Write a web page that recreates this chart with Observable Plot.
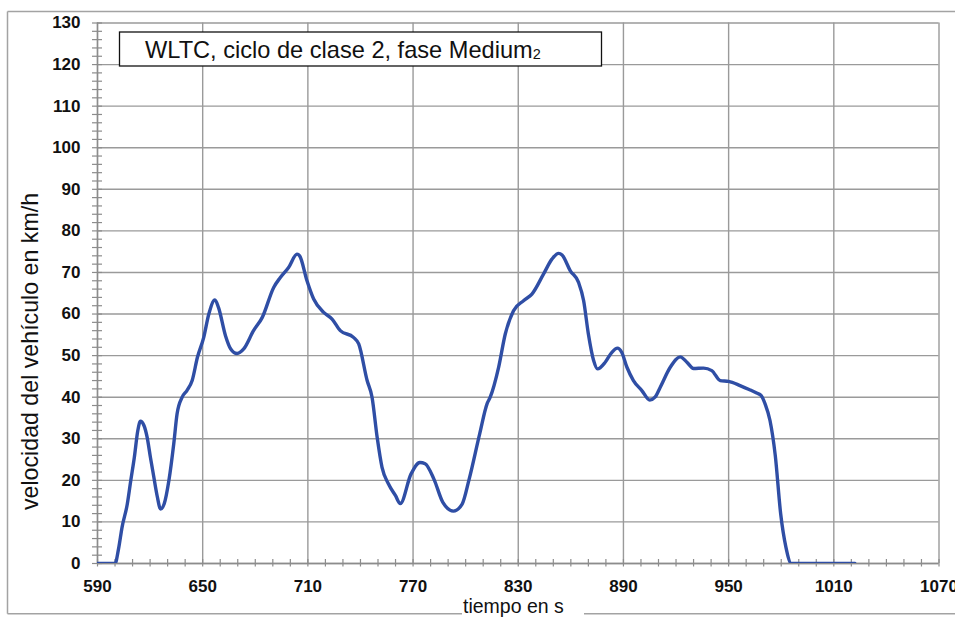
<!DOCTYPE html>
<html>
<head>
<meta charset="utf-8">
<script src="https://cdn.jsdelivr.net/npm/d3@7"></script>
<script src="https://cdn.jsdelivr.net/npm/@observablehq/plot@0.6"></script>
<style>
  html, body { margin: 0; padding: 0; background: #fff; }
  #chart { position: relative; width: 955px; height: 619px; overflow: hidden; }
  svg { display: block; }
</style>
</head>
<body>
<div id="chart"></div>
<script>
// ---- data ----
const timeS = [590, 600, 602, 604, 607, 609, 611, 613, 614.5, 616.5, 618.3, 620.2, 622, 624, 626, 628, 630.7, 633.5, 635.4, 638.3, 641, 644, 647, 650.6, 653.5, 657, 659, 663, 666, 669.6, 673.4, 679, 684, 690.5, 694.3, 699, 703.8, 705.3, 709.5, 713.3, 719, 723.8, 728.5, 736, 739, 743.8, 746.6, 749.5, 752.3, 756, 760, 762.7, 768.8, 773.9, 776.9, 781.9, 787, 793, 798, 802, 808, 812.2, 814, 818.8, 822.6, 827.3, 833, 837.8, 844.4, 849.2, 853, 855, 859.7, 864.4, 867.3, 870, 873, 875.2, 879.6, 883.4, 886.6, 889, 892, 895.7, 900.5, 905, 908, 911, 916.7, 922.4, 926.2, 930, 935.7, 940.4, 945.2, 950, 956.5, 962, 966, 968.6, 970.8, 973.6, 976.6, 979.7, 982.7, 985.8, 1022];
const speedKmh = [0, 0, 3.5, 8.7, 14.3, 20, 25.5, 32, 34.2, 33.2, 30.4, 25.5, 21.1, 16.3, 13.1, 14.3, 19.9, 28.8, 36, 40, 41.6, 44, 49.6, 54.4, 60, 63.4, 61.6, 54.8, 51.6, 50.5, 51.6, 56, 59.2, 66.4, 68.8, 71.2, 74.4, 74, 68, 63.6, 60.4, 58.8, 56, 54.4, 52.8, 44, 40, 30.4, 23.1, 19.1, 16.3, 14.4, 21.5, 24.3, 24, 20.3, 14.7, 12.6, 14.3, 20.3, 31.2, 38.4, 40, 47.2, 55.2, 60.8, 63.2, 64.8, 69.6, 73.2, 74.6, 74.2, 70.4, 67.6, 63.2, 55.2, 48.8, 46.8, 48.4, 50.8, 51.8, 50.8, 47.2, 44, 41.6, 39.3, 40, 42.4, 47.2, 49.7, 48.4, 46.9, 47, 46.4, 44, 43.8, 42.8, 41.8, 41, 40.4, 38.4, 34.4, 26, 11.9, 3.9, 0, 0];

const xTickLabels = [590, 650, 710, 770, 830, 890, 950, 1010, 1070];
const yTickLabels = [0, 10, 20, 30, 40, 50, 60, 70, 80, 90, 100, 110, 120, 130];
const xMinorTicks = d3.range(590, 1071, 10);
const yMinorTicks = d3.range(0, 131, 2);

const titleText = "WLTC, ciclo de clase 2, fase Medium";
const titleSub = "2";
const yTitle = "velocidad del vehículo en km/h";
const xTitle = "tiempo en s";

const rows = timeS.map((t, i) => ({t, v: speedKmh[i]}));

const W = 955, H = 619;
const gridColor = "#9a9a9a";
const axisColor = "#8c8c8c";
const lineColor = "#2f4ea5";
const fmt = d => String(d);

const plot = Plot.plot({
  width: W,
  height: H,
  marginLeft: 97,
  marginRight: 16.5,
  marginTop: 22.5,
  marginBottom: 56,
  style: {fontFamily: "'Liberation Sans', Arial, sans-serif", fontSize: "17px", background: "#fff", overflow: "visible"},
  x: {domain: [590, 1070]},
  y: {domain: [0, 130]},
  marks: [
    Plot.gridX(xTickLabels, {stroke: gridColor, strokeOpacity: 1, strokeWidth: 1.4}),
    Plot.gridY(yTickLabels, {stroke: gridColor, strokeOpacity: 1, strokeWidth: 1.4}),
    // minor ticks crossing the axes
    Plot.ruleX(xMinorTicks, {x: d => d, y1: 0, y2: 0, insetTop: -4, insetBottom: -3.5, stroke: axisColor, strokeWidth: 1.2}),
    Plot.ruleY(yMinorTicks, {y: d => d, x1: 590, x2: 590, insetLeft: -5, insetRight: -5, stroke: axisColor, strokeWidth: 1.2}),
    Plot.ruleX([590], {stroke: axisColor, strokeWidth: 1.4}),
    Plot.ruleY([0], {stroke: axisColor, strokeWidth: 1.4}),
    Plot.axisX(xTickLabels, {tickSize: 0, tickPadding: 16, label: null, tickFormat: fmt, fontWeight: "bold", fontSize: 17, fill: "#111"}),
    Plot.axisY(yTickLabels, {tickSize: 0, tickPadding: 17, label: null, tickFormat: fmt, fontWeight: "bold", fontSize: 17, fill: "#111"}),
    Plot.line(rows, {x: "t", y: "v", stroke: lineColor, strokeWidth: 3.4, curve: "monotone-x", clip: true})
  ]
});

document.getElementById("chart").appendChild(plot);

// ---- annotations: frame, title box, axis titles ----
const svg = d3.select(plot);
const ann = svg.append("g")
  .attr("font-family", "'Liberation Sans', Arial, sans-serif")
  .attr("text-anchor", "start");
const frameColor = "#a3a3a3";
ann.append("line").attr("x1", 7.5).attr("x2", 960).attr("y1", 11.5).attr("y2", 11.5).attr("stroke", frameColor).attr("stroke-width", 1.5);
ann.append("line").attr("x1", 7.5).attr("x2", 7.5).attr("y1", 11.5).attr("y2", 613.8).attr("stroke", frameColor).attr("stroke-width", 1.5);
ann.append("line").attr("x1", 7.5).attr("x2", 462).attr("y1", 613.8).attr("y2", 613.8).attr("stroke", frameColor).attr("stroke-width", 1.5);
ann.append("line").attr("x1", 584).attr("x2", 960).attr("y1", 613.8).attr("y2", 613.8).attr("stroke", frameColor).attr("stroke-width", 1.5);

ann.append("text").attr("x", 463).attr("y", 613.3).attr("text-anchor", "start")
  .attr("font-size", 19.5).attr("fill", "#111").text(xTitle);

ann.append("text")
  .attr("transform", "translate(37.5,351.5) rotate(-90)")
  .attr("text-anchor", "middle")
  .attr("font-size", 23.2)
  .attr("fill", "#111")
  .text(yTitle);

ann.append("rect").attr("x", 119.5).attr("y", 32).attr("width", 482).attr("height", 34)
  .attr("fill", "#fff").attr("stroke", "#111").attr("stroke-width", 1.3);
const tt = ann.append("text").attr("x", 145).attr("y", 57.5).attr("text-anchor", "start")
  .attr("font-size", 23.6).attr("fill", "#111");
tt.append("tspan").text(titleText);
tt.append("tspan").attr("font-size", 14.5).attr("dy", 1.5).text(titleSub);
</script>
</body>
</html>
